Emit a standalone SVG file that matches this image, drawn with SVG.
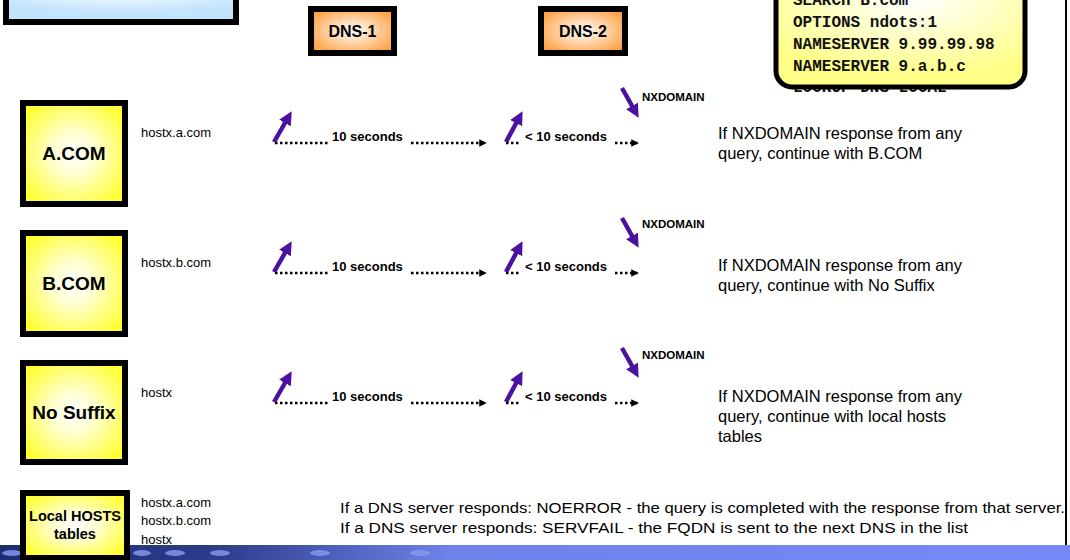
<svg xmlns="http://www.w3.org/2000/svg" width="1070" height="560" viewBox="0 0 1070 560">
<defs>
<radialGradient id="gYel" cx="50%" cy="50%" r="60%"><stop offset="0" stop-color="#ffffff"/><stop offset="0.35" stop-color="#ffffd0"/><stop offset="1" stop-color="#ffff33"/></radialGradient>
<radialGradient id="gOr" cx="50%" cy="50%" r="60%"><stop offset="0" stop-color="#ffffff"/><stop offset="1" stop-color="#ffa040"/></radialGradient>
<radialGradient id="gBlue" cx="50%" cy="0%" r="70%"><stop offset="0" stop-color="#ffffff"/><stop offset="1" stop-color="#c2e4fc"/></radialGradient>
<radialGradient id="gNote" cx="55%" cy="20%" r="70%"><stop offset="0" stop-color="#ffffff"/><stop offset="1" stop-color="#ffff88"/></radialGradient>
<linearGradient id="gBand" x1="0" y1="0" x2="1" y2="0"><stop offset="0" stop-color="#1e2c70"/><stop offset="0.2" stop-color="#2c3c8a"/><stop offset="0.42" stop-color="#6f82e8"/><stop offset="1" stop-color="#7789f8"/></linearGradient>
<marker id="mDot" viewBox="0 0 10 10" refX="9" refY="5" markerWidth="3" markerHeight="3" orient="auto"><path d="M0,0 L10,5 L0,10 Z" fill="#000"/></marker>
<marker id="mPur" viewBox="0 0 10 10" refX="6" refY="5" markerWidth="3" markerHeight="3" orient="auto"><path d="M0,0 L10,5 L0,10 Z" fill="#4b12a0"/></marker>
</defs>
<style>
.box{stroke:#000;stroke-width:6}
.lbl{font-family:"Liberation Sans",Arial,sans-serif;font-weight:bold;fill:#000;text-anchor:middle}
.small{font-family:"Liberation Sans",Arial,sans-serif;font-size:13px;fill:#000}
.note{font-family:"Liberation Sans",Arial,sans-serif;font-size:16.5px;fill:#000}
.foot{font-family:"Liberation Sans",Arial,sans-serif;font-size:15px;fill:#000}
.sec{font-family:"Liberation Sans",Arial,sans-serif;font-size:13px;font-weight:bold;fill:#000}
.nx{font-family:"Liberation Sans",Arial,sans-serif;font-size:11.5px;font-weight:bold;fill:#000}
.mono{font-family:"Liberation Mono","Courier New",monospace;font-size:16px;font-weight:bold;fill:#111}
.dot{stroke:#000;stroke-width:2.5;stroke-dasharray:2.5 2.5;fill:none}
.pur{stroke:#4b12a0;stroke-width:4.5;fill:none}
</style>
<rect width="1070" height="560" fill="#fff"/>
<!-- bottom band -->
<rect x="0" y="545" width="1070" height="15" fill="url(#gBand)"/>
<g fill="#8a9af0" opacity="0.8">
<ellipse cx="12" cy="553" rx="10" ry="3"/><ellipse cx="60" cy="553" rx="8" ry="3"/><ellipse cx="142" cy="553" rx="9" ry="3"/>
<ellipse cx="175" cy="553" rx="10" ry="3"/><ellipse cx="220" cy="553" rx="10" ry="3"/><ellipse cx="320" cy="553" rx="10" ry="3"/><ellipse cx="420" cy="553" rx="10" ry="3"/>
</g>
<line x1="1066" y1="0" x2="1066" y2="545" stroke="#000" stroke-width="2"/>

<!-- top-left box -->
<g id="topbox"><rect x="6" y="-10" width="230" height="32" fill="url(#gBlue)" class="box"/></g>

<!-- DNS servers -->
<g id="dns1"><rect x="311" y="9" width="83" height="44" fill="url(#gOr)" class="box"/><text x="352.5" y="37" class="lbl" font-size="16">DNS-1</text></g>
<g id="dns2"><rect x="541" y="9" width="84" height="44" fill="url(#gOr)" class="box"/><text x="583" y="37" class="lbl" font-size="16">DNS-2</text></g>

<!-- resolv.conf note -->
<g id="note">
<text x="793" y="92" class="mono">LOOKUP DNS LOCAL</text>
<rect x="776" y="-20" width="249" height="107" rx="16" fill="url(#gNote)" stroke="#000" stroke-width="5"/>
<text x="793" y="5" class="mono">SEARCH B.com</text>
<text x="793" y="27" class="mono">OPTIONS ndots:1</text>
<text x="793" y="49" class="mono">NAMESERVER 9.99.99.98</text>
<text x="793" y="71" class="mono">NAMESERVER 9.a.b.c</text>
</g>

<!-- domain nodes -->
<g id="acom"><rect x="23" y="103" width="102" height="101" fill="url(#gYel)" class="box"/><text x="74" y="160" class="lbl" font-size="19">A.COM</text></g>
<g id="bcom"><rect x="23" y="233" width="102" height="101" fill="url(#gYel)" class="box"/><text x="74" y="290" class="lbl" font-size="19">B.COM</text></g>
<g id="nosuffix"><rect x="23" y="363" width="102" height="99" fill="url(#gYel)" class="box"/><text x="74" y="419" class="lbl" font-size="19">No Suffix</text></g>
<g id="localhosts"><rect x="23" y="493" width="104" height="65" fill="url(#gYel)" class="box"/><text x="75" y="521" class="lbl" font-size="14.5">Local HOSTS</text><text x="75" y="539" class="lbl" font-size="14.5">tables</text></g>

<!-- host names -->
<g id="hosts">
<text x="141" y="137" class="small">hostx.a.com</text>
<text x="141" y="267" class="small">hostx.b.com</text>
<text x="141" y="397" class="small">hostx</text>
<text x="141" y="507" class="small">hostx.a.com</text>
<text x="141" y="525" class="small">hostx.b.com</text>
<text x="141" y="544" class="small">hostx</text>
</g>

<!-- connectors -->
<g id="connectors">
<g id="rowA">
<line x1="274" y1="142" x2="289" y2="116" class="pur" marker-end="url(#mPur)"/>
<line x1="275" y1="143" x2="330" y2="143" class="dot"/>
<text x="332" y="141" class="sec">10 seconds</text>
<line x1="411" y1="143" x2="486" y2="143" class="dot" marker-end="url(#mDot)"/>
<line x1="506" y1="142" x2="520" y2="116" class="pur" marker-end="url(#mPur)"/>
<line x1="506" y1="143" x2="521" y2="143" class="dot"/>
<text x="525" y="141" class="sec">&lt; 10 seconds</text>
<line x1="615" y1="143" x2="638" y2="143" class="dot" marker-end="url(#mDot)"/>
<line x1="622" y1="88" x2="636" y2="113" class="pur" marker-end="url(#mPur)"/>
<text x="642" y="101" class="nx">NXDOMAIN</text>
</g>
<g id="rowB" transform="translate(0,130)">
<line x1="274" y1="142" x2="289" y2="116" class="pur" marker-end="url(#mPur)"/>
<line x1="275" y1="143" x2="330" y2="143" class="dot"/>
<text x="332" y="141" class="sec">10 seconds</text>
<line x1="411" y1="143" x2="486" y2="143" class="dot" marker-end="url(#mDot)"/>
<line x1="506" y1="142" x2="520" y2="116" class="pur" marker-end="url(#mPur)"/>
<line x1="506" y1="143" x2="521" y2="143" class="dot"/>
<text x="525" y="141" class="sec">&lt; 10 seconds</text>
<line x1="615" y1="143" x2="638" y2="143" class="dot" marker-end="url(#mDot)"/>
<line x1="622" y1="88" x2="636" y2="113" class="pur" marker-end="url(#mPur)"/>
<text x="642" y="98" class="nx">NXDOMAIN</text>
</g>
<g id="rowC" transform="translate(0,260)">
<line x1="274" y1="142" x2="289" y2="116" class="pur" marker-end="url(#mPur)"/>
<line x1="275" y1="143" x2="330" y2="143" class="dot"/>
<text x="332" y="141" class="sec">10 seconds</text>
<line x1="411" y1="143" x2="486" y2="143" class="dot" marker-end="url(#mDot)"/>
<line x1="506" y1="142" x2="520" y2="116" class="pur" marker-end="url(#mPur)"/>
<line x1="506" y1="143" x2="521" y2="143" class="dot"/>
<text x="525" y="141" class="sec">&lt; 10 seconds</text>
<line x1="615" y1="143" x2="638" y2="143" class="dot" marker-end="url(#mDot)"/>
<line x1="622" y1="88" x2="636" y2="113" class="pur" marker-end="url(#mPur)"/>
<text x="642" y="99" class="nx">NXDOMAIN</text>
</g>
</g>

<!-- notes -->
<g id="notes">
<text x="718" y="139" class="note">If NXDOMAIN response from any</text>
<text x="718" y="159" class="note">query, continue with B.COM</text>
<text x="718" y="271" class="note">If NXDOMAIN response from any</text>
<text x="718" y="291" class="note">query, continue with No Suffix</text>
<text x="718" y="402" class="note">If NXDOMAIN response from any</text>
<text x="718" y="422" class="note">query, continue with local hosts</text>
<text x="718" y="442" class="note">tables</text>
<text x="340" y="513" class="foot" textLength="725" lengthAdjust="spacingAndGlyphs">If a DNS server responds: NOERROR - the query is completed with the response from that server.</text>
<text x="340" y="533" class="foot" textLength="628" lengthAdjust="spacingAndGlyphs">If a DNS server responds: SERVFAIL - the FQDN is sent to the next DNS in the list</text>
</g>
</svg>
